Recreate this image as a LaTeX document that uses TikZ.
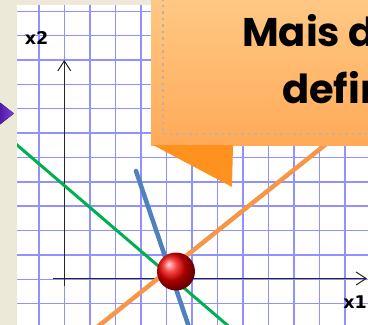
\documentclass[tikz,border=0pt]{standalone}
\usepackage{fontspec}
\setmainfont{DejaVu Sans}
\newfontfamily\calloutfont{Poppins}
\usetikzlibrary{arrows.meta}

\definecolor{slidebeige}{RGB}{236,233,216}
\definecolor{gridblue}{RGB}{145,145,255}
\definecolor{lnorange}{RGB}{247,150,70}
\definecolor{lnblue}{RGB}{79,129,189}
\definecolor{lngreen}{RGB}{0,176,80}
\definecolor{callouttop}{RGB}{255,200,132}
\definecolor{calloutbot}{RGB}{255,170,88}
\definecolor{pointerorange}{RGB}{255,145,30}
\definecolor{dotgray}{RGB}{190,178,160}
\definecolor{bulletdark}{RGB}{72,20,160}
\definecolor{bulletlight}{RGB}{125,70,215}

\begin{document}
\begin{tikzpicture}[x=1pt, y=-1pt,
    gridline/.style={gridblue, line width=1.4pt},
    axis/.style={black!85, line width=1pt, -{Straight Barb[length=10pt, width=13pt, line width=1pt]}},
    solline/.style={line width=#1},
    lbl/.style={font=\bfseries\fontsize{17.5}{18}\selectfont, inner sep=0pt},
    ball/.style={circle, minimum size=38pt, inner sep=0pt, shading=ball, ball color=red!95!black},
    callout/.style={anchor=north west, minimum width=230pt, minimum height=147pt, top color=callouttop, bottom color=calloutbot, inner sep=0pt},
    headtxt/.style={anchor=base west, inner sep=0pt, font=\calloutfont\bfseries\fontsize{40}{44}\selectfont}
]
\useasboundingbox (0,0) rectangle (368,325);
\clip (0,0) rectangle (368,325);
\fill[white] (0,0) rectangle (368,325);

\foreach \i in {0,...,14}
  \draw[gridline] (13.5+25.5*\i,-5) -- (13.5+25.5*\i,330);
\foreach \j in {-1,...,13}
  \draw[gridline] (0,11.3+24.36*\j) -- (370,11.3+24.36*\j);

\coordinate (o1) at (53,278.5);
\coordinate (x1end) at (367,278.5);
\coordinate (o2) at (64.3,286);
\coordinate (x2end) at (64.3,60);
\draw[axis] (o1) -- (x1end);
\draw[axis] (o2) -- (x2end);

\coordinate (g1) at (0,130.4);
\coordinate (g2) at (240,336);
\coordinate (r1) at (86,336);
\coordinate (r2) at (360,117);
\coordinate (b1) at (136,171);
\coordinate (b2) at (192,336);
\draw[solline=3pt, lngreen] (g1) -- (g2);
\draw[solline=4.5pt, lnorange] (r1) -- (r2);
\draw[solline=4.5pt, lnblue, line cap=round] (b1) -- (b2);

\node[ball] (sol) at (176,271.5) {};

\node[lbl] (x2lbl) at (36.5,38.5) {x2};
\node[lbl] (x1lbl) at (355,302.5) {x1};

\node[callout] (note) at (151,-2) {};
\fill[pointerorange] (153,145) -- (233,145) -- (232,187) -- cycle;
\draw[dotgray, line width=1.2pt, dash pattern=on 2.5pt off 4pt] (163,-2) -- (163,134) -- (375,134);
\node[headtxt] (line1) at (242,46.5) {Mais d};
\node[headtxt] (line2) at (282,103) {defin};

\fill[slidebeige] (0,0) rectangle (17.5,325);
\fill[slidebeige] (17.5,0) rectangle (151,4.5);
\fill[left color=bulletdark, right color=bulletlight] (-2,101) -- (14,113.5) -- (-2,126) -- cycle;
\end{tikzpicture}
\end{document}
